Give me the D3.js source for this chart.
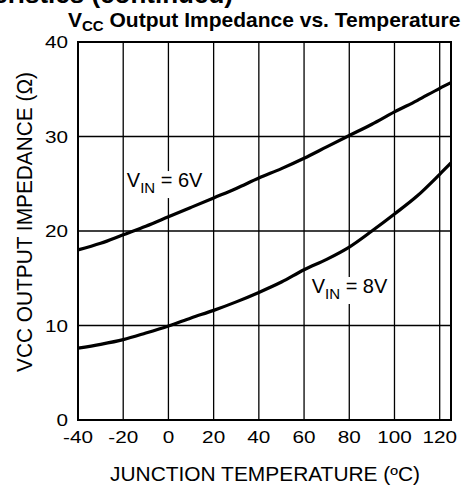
<!DOCTYPE html>
<html><head><meta charset="utf-8">
<script src="https://cdn.jsdelivr.net/npm/d3@7"></script>
<style>body{margin:0;background:#fff}svg{display:block}text{font-family:"Liberation Sans",Arial,sans-serif;fill:#000}</style>
</head><body>
<svg id="c" width="476" height="489"></svg>
<script>
const temps = [-40,-30,-20,-10,0,10,20,30,40,50,60,70,80,90,100,110,120,125];
const vin6 = [18.0,18.7,19.6,20.5,21.5,22.5,23.5,24.5,25.6,26.6,27.7,28.9,30.1,31.3,32.6,33.8,35.1,35.7];
const vin8 = [7.6,8.0,8.5,9.2,9.95,10.8,11.6,12.5,13.5,14.6,15.9,17.0,18.3,20.0,21.8,23.7,26.0,27.2];
const xTicks = [-40,-20,0,20,40,60,80,100,120];
const yTicks = [0,10,20,30,40];
const seriesLabels = [{t:"6V", x:-18.4, y:24.65}, {t:"8V", x:63.4, y:13.44}];

const svg = d3.select("#c");
const x = d3.scaleLinear().domain([-40,125]).range([78,451]);
const y = d3.scaleLinear().domain([0,40]).range([420,42]);

// top cut heading
svg.append("text").attr("x",233).attr("y",3).attr("text-anchor","end")
  .attr("font-size",26).attr("font-weight","bold").text("Typical Performance Characteristics (continued)");

// title
const title = svg.append("text").attr("x",68).attr("y",26.5)
  .attr("font-size",21).attr("font-weight","bold");
title.append("tspan").text("V");
title.append("tspan").attr("font-size",15).attr("dy",4).text("CC");
title.append("tspan").attr("dy",-4).text(" Output Impedance vs. Temperature");

// grid
const g = svg.append("g");
g.selectAll("line.v").data(xTicks.filter(d=>d>-40)).join("line")
  .attr("x1",d=>x(d)).attr("x2",d=>x(d)).attr("y1",y(0)).attr("y2",y(40))
  .attr("stroke","#000").attr("stroke-width",1.3);
g.selectAll("line.h").data(yTicks.filter(d=>d>0&&d<40)).join("line")
  .attr("x1",x(-40)).attr("x2",x(125)).attr("y1",d=>y(d)).attr("y2",d=>y(d))
  .attr("stroke","#000").attr("stroke-width",1.3);

// curves
const line = d3.line().x((d,i)=>x(temps[i])).y(d=>y(d)).curve(d3.curveMonotoneX);
[vin6, vin8].forEach(s=>{
  svg.append("path").attr("d",line(s)).attr("fill","none").attr("stroke","#000").attr("stroke-width",3.2);
});

// border
svg.append("rect").attr("x",x(-40)).attr("y",y(40)).attr("width",x(125)-x(-40)).attr("height",y(0)-y(40))
  .attr("fill","none").attr("stroke","#000").attr("stroke-width",2);

// series labels
seriesLabels.forEach(l=>{
  const t = svg.append("text").attr("x",x(l.x)).attr("y",y(l.y)).attr("font-size",20);
  t.append("tspan").text("V");
  t.append("tspan").attr("font-size",15).attr("dy",6).text("IN");
  t.append("tspan").attr("dy",-6).text(" = " + l.t);
  const bb = t.node().getBBox();
  svg.insert("rect", function(){return t.node();}).attr("x",bb.x-2).attr("y",bb.y+2).attr("width",bb.width+4).attr("height",bb.height).attr("fill","#fff");
});

// tick labels
svg.selectAll("text.xt").data(xTicks).join("text").attr("class","xt")
  .attr("transform",d=>`translate(${x(d)},443) scale(1.22,1)`).attr("text-anchor","middle").attr("font-size",17).text(d=>d);
svg.selectAll("text.yt").data(yTicks).join("text").attr("class","yt")
  .attr("transform",d=>`translate(68,${y(d)+6}) scale(1.22,1)`).attr("text-anchor","end").attr("font-size",17).text(d=>d);

// axis titles
svg.append("text").attr("x",265).attr("y",481).attr("text-anchor","middle").attr("font-size",19.5)
  .attr("textLength",310).attr("lengthAdjust","spacingAndGlyphs")
  .text("JUNCTION TEMPERATURE (ºC)");
svg.append("text").attr("transform","translate(32,222) rotate(-90)").attr("text-anchor","middle").attr("font-size",22)
  .attr("textLength",300).attr("lengthAdjust","spacingAndGlyphs")
  .text("VCC OUTPUT IMPEDANCE (Ω)");
</script>
</body></html>
